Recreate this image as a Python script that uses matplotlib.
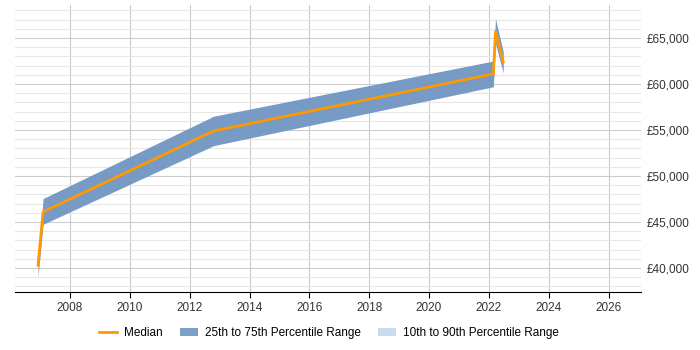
import matplotlib
matplotlib.use("Agg")
import matplotlib.pyplot as plt
from matplotlib.ticker import MultipleLocator, FuncFormatter
from matplotlib.patches import Patch
from matplotlib.lines import Line2D

plt.rcParams['font.family'] = ['Liberation Sans', 'DejaVu Sans']

years = [2006.93, 2007.1, 2012.8, 2022.15, 2022.22, 2022.48]
median = [40300, 46100, 54900, 61100, 65700, 62400]
p25 = [39000, 44750, 53300, 59700, 64400, 61200]
p75 = [40400, 47550, 56500, 62500, 67100, 63500]

fig = plt.figure(figsize=(7, 3.5), dpi=100)
ax = fig.add_axes([0.0214, 0.166, 0.895, 0.82])

ax.fill_between(years, p25, p75, color='#7096c2', alpha=0.95, linewidth=0, zorder=2)
ax.plot(years, median, color='#ff9900', linewidth=2, zorder=3)

ax.set_xlim(2006.16, 2027.1)
ax.set_ylim(37400, 68600)
ax.xaxis.set_major_locator(MultipleLocator(2))
ax.yaxis.set_major_locator(MultipleLocator(5000))
ax.yaxis.set_minor_locator(MultipleLocator(1000))
ax.yaxis.set_major_formatter(FuncFormatter(lambda v, p: f"£{int(v):,}"))
ax.yaxis.tick_right()
ax.grid(which='major', axis='both', color='#cccccc', linewidth=0.8, zorder=0)
ax.grid(which='minor', axis='y', color='#e6e6e6', linewidth=0.8, zorder=0)
ax.set_axisbelow(True)
for s in ['top', 'right', 'left']:
    ax.spines[s].set_visible(False)
ax.spines['bottom'].set_color('#000000')
ax.tick_params(axis='y', which='both', length=0, labelsize=8.5, colors='#333333', pad=4)
ax.tick_params(axis='x', which='major', length=4, labelsize=8.5, colors='#000000', labelcolor='#333333')

handles = [Line2D([0], [0], color='#ff9900', linewidth=2),
           Patch(facecolor='#7da0c8', edgecolor='none'),
           Patch(facecolor='#c8dcf0', edgecolor='none')]
labels = ['Median', '25th to 75th Percentile Range', '10th to 90th Percentile Range']
fig.legend(handles, labels, loc='lower center', bbox_to_anchor=(0.47, 0.0), ncol=3,
           frameon=False, fontsize=8.5, handlelength=1.5, columnspacing=1.5, handletextpad=0.6)

fig.savefig('out.png', dpi=100)
